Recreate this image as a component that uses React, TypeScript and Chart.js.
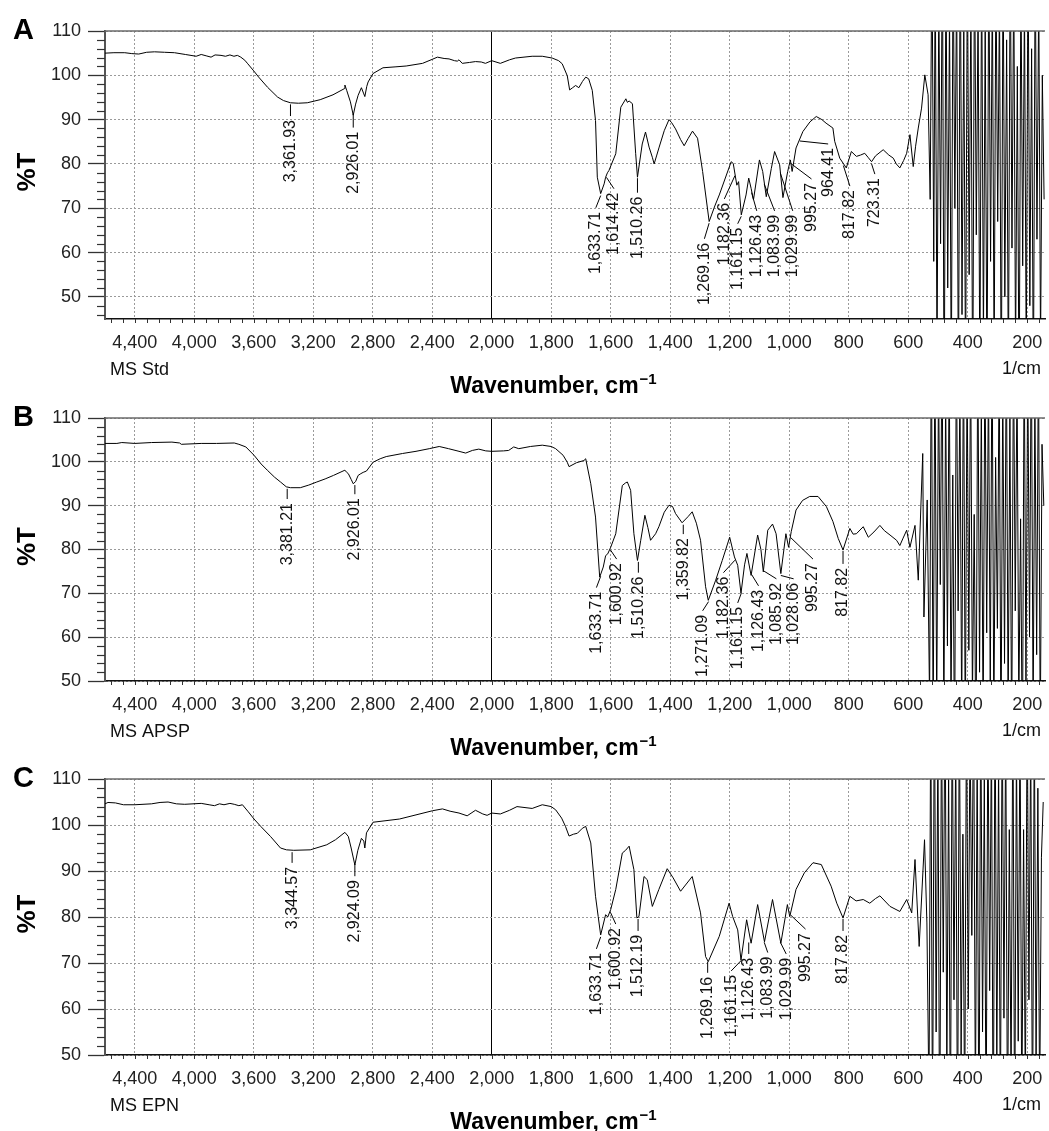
import React, { useEffect, useRef } from "react";
import { Chart, registerables } from "chart.js";
Chart.register(...registerables);

// ---------------- data ----------------
const xTickLabels = [4400, 4000, 3600, 3200, 2800, 2400, 2000, 1800, 1600, 1400, 1200, 1000, 800, 600, 400, 200];
const yTickLabels = [50, 60, 70, 80, 90, 100, 110];

// Panel A — MS Std
const wavenumbersA = [4600, 4540, 4467, 4420, 4373, 4320, 4267, 4200, 4133, 4060, 3987, 3953, 3920, 3887, 3860, 3820, 3790, 3760, 3733, 3710, 3687, 3660, 3640, 3600, 3567, 3507, 3440, 3400, 3353, 3300, 3240, 3153, 3067, 2990, 2987, 2975, 2950, 2931, 2915, 2898, 2876, 2860, 2853, 2840, 2831, 2798, 2731, 2650, 2575, 2465, 2400, 2365, 2320, 2287, 2250, 2231, 2220, 2198, 2150, 2109, 2070, 2042, 2000, 1971, 1940, 1920, 1864, 1830, 1797, 1775, 1763, 1746, 1738, 1728, 1718, 1707, 1695, 1684, 1674, 1662, 1651, 1645, 1633.71, 1622, 1617, 1611, 1606, 1583, 1566, 1549, 1544, 1538, 1527, 1516, 1510, 1494, 1483, 1471, 1460, 1454, 1445, 1437, 1420, 1404, 1395, 1382, 1365, 1353, 1340, 1325, 1308, 1291, 1269, 1250, 1235, 1195, 1188, 1176, 1170, 1161, 1145, 1136, 1128, 1120, 1100, 1089, 1077, 1060, 1049, 1032, 1021, 1005, 996, 990, 977, 954, 930, 909, 890, 876, 853, 847, 830, 808, 791, 774, 760, 746, 735, 723, 710, 684, 665, 650, 640, 628, 615, 605, 594, 583, 575, 566, 555, 544, 533, 526];
const transmittanceA = [105.0, 105.1, 105.1, 104.9, 104.8, 105.2, 105.3, 105.2, 105.1, 104.7, 104.3, 104.7, 104.4, 104.1, 104.6, 104.5, 104.3, 104.6, 104.3, 104.5, 104.1, 103.4, 102.6, 101.0, 99.6, 97.3, 95.1, 94.3, 93.8, 93.7, 93.8, 94.5, 95.6, 97.0, 97.8, 96.6, 94.0, 91.0, 93.5, 95.5, 97.2, 95.8, 95.2, 97.5, 98.5, 100.4, 101.7, 101.9, 102.1, 102.7, 103.6, 104.1, 103.8, 103.7, 103.3, 103.2, 103.5, 102.7, 102.9, 103.1, 103.0, 102.7, 103.3, 102.7, 103.5, 103.9, 104.3, 104.3, 103.9, 103.3, 102.6, 99.9, 96.7, 97.2, 97.7, 97.2, 98.6, 99.6, 99.2, 96.6, 89.8, 77.0, 73.3, 75.5, 77.0, 78.0, 78.5, 82.3, 92.8, 94.7, 93.9, 94.2, 93.6, 82.3, 77.0, 84.5, 87.2, 83.8, 81.5, 80.0, 82.0, 83.8, 87.5, 90.0, 89.3, 87.9, 85.5, 84.1, 85.7, 87.4, 85.8, 78.3, 67.0, 70.5, 73.0, 80.5, 80.1, 75.2, 76.0, 68.5, 73.0, 76.8, 74.5, 71.9, 80.9, 78.3, 72.6, 79.0, 82.8, 79.8, 72.4, 78.3, 80.9, 78.3, 83.6, 87.3, 89.5, 90.7, 90.0, 89.2, 88.1, 85.1, 81.3, 79.1, 82.8, 81.7, 82.0, 82.4, 81.5, 80.5, 81.8, 83.2, 82.0, 81.3, 80.0, 79.1, 80.8, 82.4, 86.6, 79.4, 84.0, 88.1, 92.6, 100.1, 95.6, 72.0];
const noiseWavenumbersA = [520, 514, 509, 503, 497, 491, 485, 479, 473, 467, 461, 455, 449, 443, 437, 431, 425, 419, 413, 407, 401, 395, 389, 383, 377, 371, 365, 359, 353, 347, 341, 335, 329, 323, 317, 311, 305, 299, 293, 287, 281, 275, 269, 263, 257, 251, 245, 239, 233, 227, 221, 215, 209, 203, 197, 191, 185, 179, 173, 167, 161, 155, 149, 143];
const noiseTransmittanceA = [130, 58, 125, 35, 118, 62, 132, 20, 128, 52, 115, 28, 130, 70, 122, 25, 134, 46, 110, 30, 128, 55, 120, 22, 131, 64, 116, 30, 127, 40, 112, 26, 130, 58, 121, 33, 126, 67, 118, 24, 129, 50, 108, 29, 131, 61, 124, 36, 102, 21, 125, 57, 117, 34, 130, 48, 106, 27, 128, 63, 119, 38, 100, 72];
const peakLabelsA = ["3,361.93", "2,926.01", "1,633.71", "1,614.42", "1,510.26", "1,269.16", "1,182.36", "1,161.15", "1,126.43", "1,083.99", "1,029.99", "995.27", "964.41", "817.82", "723.31"];
const peakLabelXA = [3353, 2931, 1650, 1589, 1510, 1285, 1218, 1173, 1109, 1049, 988, 925, 869, 796, 712];
const peakLabelTopA = [89.9, 87.3, 69.2, 73.5, 72.6, 62.2, 71.2, 65.6, 68.5, 68.5, 68.5, 75.7, 83.6, 74.1, 76.8];

// Panel B — MS APSP
const wavenumbersB = [4600, 4520, 4487, 4400, 4287, 4150, 4098, 4087, 3953, 3850, 3731, 3700, 3653, 3598, 3550, 3509, 3460, 3420, 3381, 3353, 3287, 3230, 3176, 3120, 3064, 2987, 2975, 2964, 2945, 2931, 2915, 2898, 2880, 2864, 2842, 2798, 2750, 2709, 2600, 2509, 2420, 2353, 2290, 2220, 2175, 2130, 2087, 2040, 2000, 1960, 1943, 1926, 1909, 1870, 1830, 1800, 1785, 1760, 1746, 1740, 1715, 1690, 1684, 1667, 1651, 1637, 1625, 1617, 1610, 1600, 1583, 1561, 1550, 1544, 1533, 1522, 1510, 1499, 1485, 1475, 1466, 1449, 1438, 1420, 1404, 1392, 1382, 1360, 1340, 1326, 1312, 1298, 1281, 1272, 1247, 1225, 1200, 1184, 1173, 1162, 1150, 1142, 1128, 1106, 1095, 1087, 1072, 1056, 1044, 1028, 1011, 1002, 993, 977, 955, 931, 903, 875, 853, 835, 819, 796, 785, 774, 751, 734, 715, 695, 680, 661, 639, 628, 617, 605, 594, 577, 566, 551, 547, 536];
const transmittanceB = [104.2, 104.2, 104.4, 104.2, 104.4, 104.5, 104.3, 104.0, 104.2, 104.2, 104.3, 104.0, 103.4, 101.5, 99.5, 98.1, 96.5, 95.4, 94.3, 94.1, 94.1, 94.7, 95.4, 96.1, 96.9, 98.1, 97.6, 97.3, 96.0, 95.0, 95.5, 96.9, 97.3, 97.6, 97.9, 99.9, 100.7, 101.2, 101.9, 102.4, 103.0, 103.5, 103.0, 102.4, 102.0, 102.6, 102.9, 102.5, 102.4, 102.5, 102.6, 103.4, 103.0, 103.5, 103.8, 103.5, 103.0, 101.5, 99.9, 98.9, 99.8, 100.3, 100.7, 95.0, 87.4, 73.7, 76.0, 78.6, 79.0, 80.5, 83.6, 94.6, 95.2, 95.4, 93.5, 83.6, 77.5, 82.1, 87.8, 85.0, 82.1, 83.6, 85.2, 88.5, 90.1, 89.8, 88.2, 86.1, 87.5, 88.6, 86.0, 82.1, 71.5, 68.4, 73.0, 77.5, 82.8, 78.3, 76.4, 70.0, 76.5, 79.1, 74.1, 83.3, 80.0, 74.9, 84.4, 85.8, 83.6, 74.5, 83.6, 80.5, 84.1, 89.0, 91.2, 92.1, 92.1, 89.8, 86.4, 82.5, 79.9, 84.8, 83.5, 83.6, 85.2, 82.8, 84.0, 85.5, 84.3, 83.3, 82.1, 80.9, 82.6, 84.4, 80.5, 85.5, 73.0, 101.9, 64.6, 91.3];
const noiseWavenumbersB = [528, 522, 516, 510, 504, 498, 492, 486, 480, 474, 468, 462, 456, 450, 444, 438, 432, 426, 420, 414, 408, 402, 396, 390, 384, 378, 372, 366, 360, 354, 348, 342, 336, 330, 324, 318, 312, 306, 300, 294, 288, 282, 276, 270, 264, 258, 252, 246, 240, 234, 228, 222, 216, 210, 204, 198, 192, 186, 180, 174, 168, 162, 156, 150, 144];
const noiseTransmittanceB = [45, 130, 38, 128, 42, 120, 72, 131, 40, 116, 58, 124, 44, 97, 30, 129, 66, 118, 40, 130, 35, 122, 57, 126, 45, 88, 28, 130, 52, 114, 38, 127, 61, 120, 47, 131, 40, 101, 62, 125, 33, 118, 54, 129, 42, 110, 35, 127, 66, 120, 44, 87, 30, 128, 48, 123, 60, 130, 41, 115, 56, 126, 37, 104, 90];
const peakLabelsB = ["3,381.21", "2,926.01", "1,633.71", "1,600.92", "1,510.26", "1,359.82", "1,271.09", "1,182.36", "1,161.15", "1,126.43", "1,085.92", "1,028.06", "995.27", "817.82"];
const peakLabelXB = [3375, 2920, 1648, 1580, 1507, 1356, 1291, 1221, 1173, 1103, 1043, 985, 920, 819];
const peakLabelTopB = [90.6, 91.7, 70.4, 76.9, 73.8, 82.6, 65.1, 73.8, 66.9, 70.8, 72.4, 72.4, 76.9, 75.8];

// Panel C — MS EPN
const wavenumbersC = [4600, 4580, 4530, 4476, 4400, 4287, 4230, 4176, 4120, 4064, 3953, 3900, 3864, 3830, 3800, 3760, 3731, 3700, 3676, 3640, 3598, 3553, 3487, 3420, 3380, 3331, 3220, 3109, 3050, 2987, 2964, 2945, 2920, 2900, 2876, 2860, 2853, 2842, 2798, 2620, 2398, 2331, 2280, 2220, 2165, 2109, 2060, 2031, 2000, 1971, 1940, 1915, 1864, 1830, 1800, 1785, 1765, 1752, 1740, 1725, 1712, 1695, 1684, 1667, 1651, 1642, 1633.71, 1617, 1610, 1600, 1583, 1561, 1550, 1538, 1522, 1512, 1505, 1488, 1477, 1460, 1438, 1410, 1390, 1365, 1326, 1298, 1281, 1272, 1235, 1202, 1190, 1173, 1162, 1143, 1128, 1106, 1083, 1056, 1028, 1006, 998, 977, 949, 920, 892, 859, 840, 819, 796, 775, 751, 729, 710, 695, 661, 628, 605, 588, 577, 563, 545, 537];
const transmittanceC = [104.6, 104.9, 104.8, 104.4, 104.4, 104.6, 104.9, 105.0, 104.6, 104.5, 104.7, 104.4, 104.2, 104.6, 104.4, 104.7, 104.5, 104.2, 104.4, 103.0, 101.3, 99.7, 97.5, 95.0, 94.6, 94.5, 94.6, 95.7, 96.8, 98.4, 97.5, 95.0, 91.3, 94.5, 97.1, 96.5, 95.0, 98.3, 100.6, 101.3, 103.1, 103.5, 103.0, 102.6, 102.0, 103.2, 102.4, 102.1, 102.6, 102.4, 103.2, 104.0, 103.6, 104.4, 104.0, 103.3, 101.5, 99.7, 97.6, 98.0, 98.2, 99.3, 99.7, 96.1, 84.5, 80.1, 76.1, 80.5, 80.0, 81.6, 86.0, 93.9, 94.5, 95.4, 90.3, 79.8, 80.1, 88.8, 88.1, 82.3, 86.0, 90.5, 88.5, 85.6, 88.8, 80.9, 71.4, 70.3, 75.8, 83.0, 80.1, 77.2, 70.6, 79.4, 74.3, 82.7, 74.6, 83.8, 74.3, 82.7, 80.1, 86.0, 89.6, 91.8, 91.4, 86.7, 83.0, 79.8, 84.5, 83.5, 83.8, 83.0, 84.0, 84.6, 82.3, 81.2, 83.8, 80.9, 92.5, 73.6, 96.8, 78.7];
const noiseWavenumbersC = [530, 524, 518, 512, 506, 500, 494, 488, 482, 476, 470, 464, 458, 452, 446, 440, 434, 428, 422, 416, 410, 404, 398, 392, 386, 380, 374, 368, 362, 356, 350, 344, 338, 332, 326, 320, 314, 308, 302, 296, 290, 284, 278, 272, 266, 260, 254, 248, 242, 236, 230, 224, 218, 212, 206, 200, 194, 188, 182, 176, 170, 164, 158, 152, 146];
const noiseTransmittanceC = [40, 128, 30, 132, 55, 120, 24, 126, 68, 133, 45, 112, 29, 128, 62, 119, 26, 130, 50, 98, 34, 127, 60, 122, 76, 130, 38, 117, 27, 129, 55, 110, 31, 126, 64, 121, 25, 131, 46, 114, 33, 127, 58, 123, 30, 99, 42, 130, 28, 118, 53, 125, 35, 99, 40, 128, 62, 120, 30, 124, 48, 108, 38, 93, 105];
const peakLabelsC = ["3,344.57", "2,924.09", "1,633.71", "1,600.92", "1,512.19", "1,269.16", "1,161.15", "1,126.43", "1,083.99", "1,029.99", "995.27", "817.82"];
const peakLabelXC = [3342, 2920, 1648, 1583, 1508, 1274, 1195, 1136, 1072, 1010, 945, 819];
const peakLabelTopC = [90.9, 88.0, 72.2, 77.6, 76.1, 67.0, 67.4, 71.1, 71.4, 71.1, 76.5, 76.1];

// ---------------- helpers ----------------
// Axis coordinate with 2x expansion below 2000 cm-1 (reversed wavenumber axis)
const toAxis = (w: number) => (w <= 2000 ? 2000 - w : (2000 - w) / 2);
const fromAxis = (t: number) => (t >= 0 ? 2000 - t : 2000 - 2 * t);
const fmt = (n: number) => Math.round(n).toString().replace(/\B(?=(\d{3})+(?!\d))/g, ",");

function valueAt(ws: number[], ts: number[], w: number) {
  for (let i = 0; i < ws.length - 1; i++) {
    const a = ws[i], b = ws[i + 1];
    if (w <= a && w >= b) {
      const f = a === b ? 0 : (a - w) / (a - b);
      return ts[i] + f * (ts[i + 1] - ts[i]);
    }
  }
  return ts[ts.length - 1];
}

const FONT = "'Liberation Sans', Arial, Helvetica, sans-serif";
const CANVAS_W = 1062;

type PanelProps = {
  pageTop: number;
  height: number;
  areaTop: number;
  areaBottom: number;
  yMin: number;
  letter: string;
  sample: string;
  wavenumbers: number[];
  transmittance: number[];
  noiseW: number[];
  noiseT: number[];
  labels: string[];
  labelX: number[];
  labelTop: number[];
};

function Panel(p: PanelProps) {
  const ref = useRef<HTMLCanvasElement>(null);
  useEffect(() => {
    const canvas = ref.current!;
    const allW = p.wavenumbers.concat(p.noiseW);
    const allT = p.transmittance.concat(p.noiseT);
    const points = allW.map((w, i) => ({ x: toAxis(w), y: allT[i] }));

    const decor = {
      id: "decor" + p.letter,
      afterDraw(chart: any) {
        const { ctx, chartArea: a, scales } = chart;
        const xs = scales.x, ys = scales.y;
        ctx.save();
        // top frame
        ctx.strokeStyle = "#6a6a6a";
        ctx.lineWidth = 1.5;
        ctx.beginPath();
        ctx.moveTo(a.left, a.top);
        ctx.lineTo(a.right, a.top);
        ctx.stroke();
        // minor y ticks
        ctx.strokeStyle = "#333";
        ctx.lineWidth = 1.2;
        for (let v = Math.ceil(p.yMin / 2) * 2; v <= 110; v += 2) {
          if (v % 10 === 0) continue;
          const y = Math.round(ys.getPixelForValue(v)) + 0.5;
          ctx.beginPath();
          ctx.moveTo(a.left - 8, y);
          ctx.lineTo(a.left, y);
          ctx.stroke();
        }
        // x ticks (every 40 axis units)
        ctx.lineWidth = 1;
        for (let t = -1280; t <= 1860; t += 40) {
          const x = Math.round(xs.getPixelForValue(t)) + 0.5;
          ctx.beginPath();
          ctx.moveTo(x, a.bottom);
          ctx.lineTo(x, a.bottom + 4);
          ctx.stroke();
        }
        // peak labels with leaders
        ctx.strokeStyle = "#000";
        ctx.fillStyle = "#111";
        ctx.lineWidth = 1;
        ctx.font = `16px ${FONT}`;
        p.labels.forEach((txt, i) => {
          const peakW = parseFloat(txt.replace(/,/g, ""));
          const px = xs.getPixelForValue(toAxis(peakW));
          const py = ys.getPixelForValue(valueAt(p.wavenumbers, p.transmittance, peakW));
          const lx = xs.getPixelForValue(toAxis(p.labelX[i]));
          const ly = ys.getPixelForValue(p.labelTop[i]);
          if (ly - 4 > py + 2) {
            ctx.beginPath();
            if (Math.abs(lx - px) <= 3) {
              ctx.moveTo(lx, py + 2);
              ctx.lineTo(lx, ly - 4);
            } else {
              ctx.moveTo(px, py + 2);
              ctx.lineTo(lx, ly - 4);
            }
            ctx.stroke();
          }
          ctx.save();
          ctx.translate(lx, ly);
          ctx.rotate(-Math.PI / 2);
          ctx.textAlign = "right";
          ctx.textBaseline = "middle";
          ctx.fillText(txt, 0, 0);
          ctx.restore();
        });
        // panel letter
        ctx.fillStyle = "#000";
        ctx.textAlign = "left";
        ctx.textBaseline = "alphabetic";
        ctx.font = `bold 29px ${FONT}`;
        ctx.fillText(p.letter, 13, a.top + 8);
        // y title
        ctx.save();
        ctx.translate(28, (a.top + a.bottom) / 2 - 3);
        ctx.rotate(-Math.PI / 2);
        ctx.textAlign = "center";
        ctx.textBaseline = "middle";
        ctx.font = `bold 26px ${FONT}`;
        ctx.fillText("%T", 0, 0);
        ctx.restore();
        // sample name and unit
        ctx.font = `18px ${FONT}`;
        ctx.fillStyle = "#111";
        ctx.textBaseline = "middle";
        ctx.textAlign = "left";
        ctx.fillText(p.sample, 110, a.bottom + 51);
        ctx.textAlign = "right";
        ctx.fillText("1/cm", 1041, a.bottom + 50);
        // x title with superscript
        ctx.fillStyle = "#000";
        ctx.textBaseline = "alphabetic";
        ctx.textAlign = "left";
        const main = "Wavenumber, cm";
        const sup = "\u22121";
        ctx.font = `bold 23px ${FONT}`;
        const w1 = ctx.measureText(main).width;
        ctx.font = `bold 15px ${FONT}`;
        const w2 = ctx.measureText(sup).width;
        const x0 = 553 - (w1 + w2) / 2;
        const base = a.bottom + 74;
        ctx.font = `bold 23px ${FONT}`;
        ctx.fillText(main, x0, base);
        ctx.font = `bold 15px ${FONT}`;
        ctx.fillText(sup, x0 + w1 + 1, base - 9);
        ctx.restore();
      },
    };

    const gridColor = (c: any) => (c.tick && c.tick.value === 0 ? "#000" : "#9a9a9a");
    const chart = new Chart(canvas, {
      type: "line",
      data: {
        datasets: [
          {
            data: points,
            borderColor: "#000",
            borderWidth: 1,
            pointRadius: 0,
            tension: 0,
            fill: false,
          },
        ],
      },
      options: {
        animation: false,
        responsive: false,
        maintainAspectRatio: false,
        layout: { padding: { top: p.areaTop, right: CANVAS_W - 1045, left: 0, bottom: 0 } },
        plugins: { legend: { display: false }, tooltip: { enabled: false } },
        scales: {
          x: {
            type: "linear",
            min: -1300,
            max: 1860,
            afterBuildTicks: (s: any) => {
              s.ticks = xTickLabels.map((w) => ({ value: toAxis(w) }));
            },
            afterFit: (s: any) => {
              s.height = p.height - p.areaBottom;
            },
            ticks: {
              callback: (v: any) => fmt(fromAxis(Number(v))),
              font: { family: FONT, size: 18 },
              color: "#222",
              padding: 13,
              maxRotation: 0,
              autoSkip: false,
            },
            grid: { color: gridColor, drawTicks: false, lineWidth: 1 },
            border: {
              display: true,
              color: "#111",
              width: 1.5,
              dash: (c: any) => (c.tick && c.tick.value === 0 ? [] : [2, 2]),
            },
          },
          y: {
            type: "linear",
            min: p.yMin,
            max: 110,
            afterBuildTicks: (s: any) => {
              s.ticks = yTickLabels.map((v) => ({ value: v }));
            },
            afterFit: (s: any) => {
              s.width = 105;
            },
            ticks: {
              font: { family: FONT, size: 18 },
              color: "#222",
              padding: 7,
            },
            grid: {
              color: "#9a9a9a",
              tickColor: "#333",
              tickLength: 17,
              tickWidth: 1.3,
              tickBorderDash: [],
            },
            border: { display: true, color: "#555", width: 2, dash: [2, 2] },
          },
        },
      },
      plugins: [decor],
    } as any);
    return () => chart.destroy();
  }, []);

  return (
    <canvas
      ref={ref}
      width={CANVAS_W}
      height={p.height}
      style={{ position: "absolute", left: 0, top: p.pageTop, width: CANVAS_W, height: p.height }}
    />
  );
}

export default function App() {
  return (
    <div style={{ position: "absolute", left: 0, top: 0, width: 1049, height: 1131, background: "#fff", overflow: "hidden" }}>
      <Panel
        pageTop={0}
        height={395}
        areaTop={31}
        areaBottom={319}
        yMin={45}
        letter="A"
        sample="MS Std"
        wavenumbers={wavenumbersA}
        transmittance={transmittanceA}
        noiseW={noiseWavenumbersA}
        noiseT={noiseTransmittanceA}
        labels={peakLabelsA}
        labelX={peakLabelXA}
        labelTop={peakLabelTopA}
      />
      <Panel
        pageTop={395}
        height={365}
        areaTop={23}
        areaBottom={286}
        yMin={50}
        letter="B"
        sample="MS APSP"
        wavenumbers={wavenumbersB}
        transmittance={transmittanceB}
        noiseW={noiseWavenumbersB}
        noiseT={noiseTransmittanceB}
        labels={peakLabelsB}
        labelX={peakLabelXB}
        labelTop={peakLabelTopB}
      />
      <Panel
        pageTop={760}
        height={371}
        areaTop={19}
        areaBottom={295}
        yMin={50}
        letter="C"
        sample="MS EPN"
        wavenumbers={wavenumbersC}
        transmittance={transmittanceC}
        noiseW={noiseWavenumbersC}
        noiseT={noiseTransmittanceC}
        labels={peakLabelsC}
        labelX={peakLabelXC}
        labelTop={peakLabelTopC}
      />
    </div>
  );
}
